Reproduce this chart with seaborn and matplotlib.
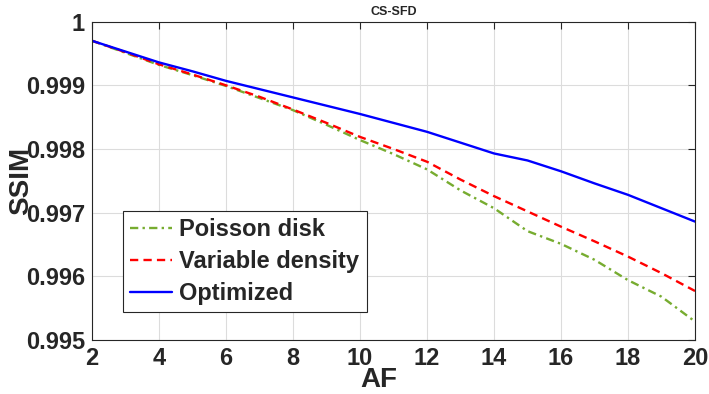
import pandas as pd
import seaborn as sns
import matplotlib.pyplot as plt
from matplotlib.ticker import FuncFormatter

af = list(range(2, 21))
poisson = [0.99970, 0.99951, 0.99932, 0.99916, 0.99899, 0.99880, 0.99861, 0.99838,
           0.99814, 0.99792, 0.99768, 0.99735, 0.99707, 0.99671, 0.99651, 0.99626,
           0.99594, 0.99568, 0.99529]
variable = [0.99970, 0.99952, 0.99933, 0.99917, 0.99900, 0.99882, 0.99862, 0.99841,
            0.99819, 0.99800, 0.99780, 0.99752, 0.99726, 0.99702, 0.99678, 0.99655,
            0.99631, 0.99605, 0.99577]
optimized = [0.99970, 0.99953, 0.99936, 0.99922, 0.99907, 0.99894, 0.99881, 0.99868,
             0.99855, 0.99841, 0.99827, 0.99810, 0.99793, 0.99782, 0.99765, 0.99746,
             0.99728, 0.99707, 0.99686]
labels = ["Poisson disk", "Variable density", "Optimized"]

df = pd.concat([
    pd.DataFrame({"AF": af, "SSIM": vals, "method": name})
    for name, vals in zip(labels, [poisson, variable, optimized])
])

sns.set_style("whitegrid")
plt.rcParams["font.family"] = ["Liberation Sans", "DejaVu Sans"]
plt.rcParams["font.weight"] = "bold"

fig = plt.figure(figsize=(7.09, 3.94), dpi=100)
ax = fig.add_axes([0.1298, 0.137, 0.8505, 0.808])

palette = {"Poisson disk": "#77AC30", "Variable density": "#FF0000", "Optimized": "#0000FF"}
dashes = {"Poisson disk": (3.5, 1.8, 1, 1.8), "Variable density": (3.5, 2.2), "Optimized": ""}
sns.lineplot(data=df, x="AF", y="SSIM", hue="method", style="method",
             palette=palette, dashes=dashes, linewidth=1.7, ax=ax)

ax.set_xlim(2, 20)
ax.set_ylim(0.995, 1.0)
ax.set_xticks(range(2, 21, 2))
ax.set_yticks([0.995, 0.996, 0.997, 0.998, 0.999, 1.0])
ax.yaxis.set_major_formatter(FuncFormatter(lambda v, p: f"{v:.3f}".rstrip("0").rstrip(".")))
ax.grid(True, color="#dcdcdc", linewidth=0.8)
for s in ax.spines.values():
    s.set_color("#262626")
    s.set_linewidth(0.8)
ax.tick_params(direction="in", length=5, width=0.8, colors="#262626",
               top=True, right=True, labelsize=17, pad=5)
for lab in ax.get_xticklabels() + ax.get_yticklabels():
    lab.set_fontweight("bold")

ax.set_xlabel("AF", fontsize=20, fontweight="bold")
ax.set_ylabel("SSIM", fontsize=20, fontweight="bold", labelpad=-6)
ax.xaxis.set_label_coords(0.475, -0.085)
ax.set_title("CS-SFD", fontsize=9, fontweight="bold", pad=5)

leg = ax.legend(loc="upper left", bbox_to_anchor=(0.051, 0.406), borderaxespad=0,
                fancybox=False, edgecolor="#262626", framealpha=1, fontsize=17,
                handlelength=1.8, handletextpad=0.3, labelspacing=0.38,
                borderpad=0.3, title=None)
leg.get_frame().set_linewidth(0.8)
for t in leg.get_texts():
    t.set_fontweight("bold")

fig.savefig("out.png", dpi=100)
